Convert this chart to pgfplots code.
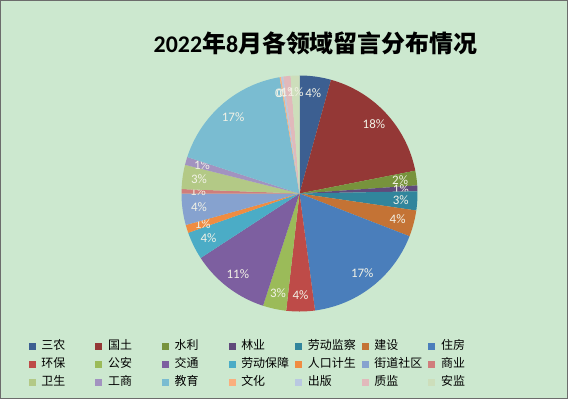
\documentclass[border=0pt]{standalone}
\usepackage{pgfplots}
\pgfplotsset{compat=1.18}
\usepackage{pgfplotstable}
\usepackage{fontspec}
\setmainfont{Carlito}
\newfontfamily\cjk{Noto Sans CJK SC}

\definecolor{bgc}{RGB}{204,232,207}
\definecolor{lblc}{RGB}{242,242,230}
\definecolor{c0}{RGB}{60,95,145}
\definecolor{c1}{RGB}{148,56,54}
\definecolor{c2}{RGB}{119,147,60}
\definecolor{c3}{RGB}{96,74,123}
\definecolor{c4}{RGB}{49,133,156}
\definecolor{c5}{RGB}{196,115,53}
\definecolor{c6}{RGB}{74,126,187}
\definecolor{c7}{RGB}{190,75,72}
\definecolor{c8}{RGB}{155,187,89}
\definecolor{c9}{RGB}{125,95,160}
\definecolor{c10}{RGB}{75,172,198}
\definecolor{c11}{RGB}{240,140,65}
\definecolor{c12}{RGB}{134,162,207}
\definecolor{c13}{RGB}{208,125,124}
\definecolor{c14}{RGB}{179,201,134}
\definecolor{c15}{RGB}{162,147,192}
\definecolor{c16}{RGB}{122,188,209}
\definecolor{c17}{RGB}{250,175,125}
\definecolor{c18}{RGB}{185,200,225}
\definecolor{c19}{RGB}{225,185,187}
\definecolor{c20}{RGB}{205,222,187}

\tikzset{lbl/.style={font=\fontsize{13}{15}\selectfont, text=lblc, inner sep=0pt}}

\pgfplotstableread{
name value
三农 4.3
国土 17.6
水利 2.0
林业 0.8
劳动监察 2.6
建设 3.6
住房 17.0
环保 3.9
公安 3.2
交通 10.8
劳动保障 3.8
人口计生 1.1
街道社区 4.3
商业 0.6
卫生 3.3
工商 1.1
教育 17.3
文化 0.2
出版 0.3
质监 1.0
安监 1.2
}\piedata

\newcommand\lgd[1]{\hspace*{5.6bp}\makebox[54bp][l]{#1}}

\begin{document}
\begin{tikzpicture}
\fill[bgc] (0,0) rectangle (568bp,-399bp);
\draw[gray!85!black, line width=1bp] (0.5bp,-0.5bp) rectangle (567.5bp,-398.5bp);
\node[font=\bfseries\fontsize{24}{27}\selectfont, inner sep=0pt] at (315.5bp,-43bp)
  {2022{\cjk 年}8{\cjk 月各领域留言分布情况}};
\begin{axis}[
  at={(299.5bp,-193.5bp)}, anchor=origin,
  hide axis, x=118bp, y=118bp,
  xmin=-1.02, xmax=1.02, ymin=-1.02, ymax=1.02,
  clip=false,
  legend columns=7,
  legend image code/.code={\fill[#1] (0bp,-3.5bp) rectangle (7bp,3.5bp);},
  legend style={draw=none, fill=none, inner sep=0pt, row sep=6.3bp, column sep=0pt,
    font=\cjk\fontsize{12}{14}\selectfont,
    nodes={inner sep=0pt, text height=9bp, text depth=3bp},
    at={(axis cs:-2.295,-1.241)}, anchor=north west},
]
\gdef\cum{0}
\pgfplotsinvokeforeach{0,...,20}{
  \pgfplotstablegetelem{#1}{value}\of\piedata
  \let\v\pgfplotsretval
  \pgfmathsetmacro\a{\cum*3.6}
  \pgfmathsetmacro\b{(\cum+\v)*3.6}
  \pgfmathsetmacro\m{(\a+\b)/2}
  \pgfmathsetmacro\lx{0.86*sin(\m)}
  \pgfmathsetmacro\ly{0.86*cos(\m)}
  \pgfmathtruncatemacro\p{round(\v)}
  \edef\next{\noexpand\addplot[fill=c#1, draw=none, domain=\a:\b, samples=40, variable=\noexpand\t]
    ({sin(\noexpand\t)},{cos(\noexpand\t)}) -- (axis cs:0,0) -- cycle;}
  \next
  \pgfplotstablegetelem{#1}{name}\of\piedata
  \addlegendentryexpanded{\noexpand\lgd{\pgfplotsretval}}
  \edef\next{\noexpand\node[lbl] at (axis cs:\lx,\ly) {\p\noexpand\%};}
  \next
  \pgfmathsetmacro\newcum{\cum+\v}
  \xdef\cum{\newcum}
}
\end{axis}
\end{tikzpicture}
\end{document}
